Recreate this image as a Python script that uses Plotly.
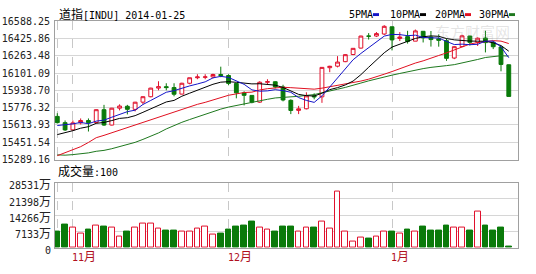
import plotly.graph_objects as go

# ---------------- data ----------------
# trading days 2013-10-30 .. 2014-01-24, one entry per session
open_ = [15680, 15618, 15546, 15616, 15639, 15619, 15747, 15594, 15762, 15781,
         15750, 15822, 15876, 15962, 15976, 15967, 15902, 16010, 16065, 16070,
         16073, 16097, 16087, 16008, 15914, 15889, 15822, 16020, 16025, 15973,
         15840, 15740, 15756, 15885, 15875, 16165, 16180, 16225, 16296, 16360,
         16480, 16480, 16500, 16572, 16456, 16474, 16429, 16527, 16471, 16453,
         16434, 16261, 16375, 16480, 16418, 16460, 16416, 16371, 16194]
high = [15712, 15640, 15640, 15660, 15660, 15750, 15795, 15765, 15800, 15795,
        15825, 15880, 15965, 16030, 16010, 16010, 16015, 16065, 16100, 16100,
        16105, 16175, 16100, 16010, 15930, 15890, 16030, 16050, 16030, 15995,
        15850, 15785, 15920, 15910, 16170, 16184, 16280, 16300, 16360, 16483,
        16509, 16520, 16588.25, 16573, 16519, 16532, 16545, 16528, 16530, 16497,
        16453, 16379, 16492, 16482, 16466, 16533, 16430, 16374, 16197]
low = [15610, 15535, 15540, 15600, 15530, 15610, 15585, 15590, 15740, 15700,
       15730, 15800, 15870, 15940, 15940, 15880, 15900, 16000, 16050, 16050,
       16060, 16070, 15990, 15860, 15790, 15810, 15815, 16000, 15960, 15830,
       15703, 15703, 15750, 15850, 15815, 16120, 16168, 16220, 16290, 16355,
       16445, 16470, 16490, 16337, 16430, 16405, 16429, 16416, 16375, 16374,
       16233, 16250, 16375, 16386, 16381, 16317, 16350, 16129, 15879]
close = [15618.22, 15545.75, 15615.55, 15639.12, 15618.76, 15746.88, 15593.98, 15761.78, 15783.10, 15750.67,
         15821.63, 15876.22, 15961.70, 15976.02, 15967.03, 15900.82, 16009.99, 16064.77, 16072.54, 16072.80,
         16097.33, 16086.41, 16008.77, 15914.62, 15889.77, 15821.51, 16020.20, 16025.53, 15973.13, 15843.53,
         15739.43, 15755.36, 15884.57, 15875.26, 16167.97, 16179.08, 16221.14, 16294.61, 16357.55, 16479.88,
         16478.41, 16504.29, 16576.66, 16441.35, 16469.99, 16425.10, 16530.94, 16462.74, 16444.76, 16437.05,
         16257.94, 16373.86, 16481.94, 16417.01, 16458.56, 16414.44, 16373.34, 16197.35, 15879.11]
# volume, in units of 10,000 shares
volume = [8221, 11606, 10010, 7254, 9188, 10977, 10639, 10010, 5803, 8221,
          10010, 12428, 12428, 9527, 8704, 8704, 8076, 8076, 9527, 10494,
          6625, 7254, 9188, 10639, 11122, 13057, 10010, 9188, 8221, 10639,
          10639, 8221, 10155, 10155, 13057, 9672, 28531, 8221, 3385, 5319,
          4836, 5803, 8221, 8221, 7254, 9188, 8221, 10639, 8704, 8704,
          11122, 10155, 10155, 8704, 18376, 11122, 8704, 10155, 484]
ma5 = [15589.4, 15596.7, 15605.8, 15619.8, 15607.5, 15633.2, 15642.9, 15672.1, 15700.9, 15727.3,
       15742.2, 15798.7, 15838.7, 15877.2, 15920.5, 15936.4, 15963.1, 15983.7, 16003.0, 16024.2,
       16063.5, 16078.8, 16067.6, 16036.0, 15999.4, 15944.2, 15931.0, 15934.3, 15946.0, 15936.8,
       15920.4, 15867.4, 15839.2, 15819.6, 15884.5, 15972.4, 16065.6, 16147.6, 16244.1, 16306.5,
       16366.3, 16422.9, 16479.4, 16496.1, 16494.1, 16483.5, 16488.8, 16466.0, 16466.7, 16460.1,
       16426.7, 16395.3, 16399.1, 16393.6, 16397.9, 16429.2, 16429.1, 16372.1, 16264.6]
ma10 = [15499.1, 15516.6, 15538.1, 15562.8, 15578.0, 15611.3, 15619.8, 15638.9, 15660.3, 15667.4,
        15687.7, 15720.8, 15755.4, 15789.1, 15823.9, 15839.3, 15880.9, 15911.2, 15940.1, 15972.4,
        15999.9, 16020.9, 16025.6, 16019.5, 16011.8, 16003.9, 16004.9, 16000.9, 15991.0, 15968.1,
        15932.3, 15899.2, 15886.8, 15882.8, 15910.6, 15946.4, 15966.5, 15993.4, 16031.9, 16095.5,
        16169.4, 16244.3, 16313.5, 16370.1, 16400.3, 16424.9, 16455.9, 16472.7, 16481.4, 16477.1,
        16455.1, 16442.0, 16432.6, 16430.1, 16429.0, 16427.9, 16412.2, 16385.6, 16329.1]
ma20 = [15289.1, 15316.6, 15343.7, 15378.9, 15421.0, 15468.2, 15491.6, 15517.8, 15541.9, 15571.0,
        15593.4, 15618.7, 15646.8, 15676.0, 15700.9, 15725.3, 15750.3, 15775.1, 15800.2, 15819.9,
        15843.8, 15870.9, 15890.5, 15904.3, 15917.8, 15921.6, 15942.9, 15956.1, 15965.6, 15970.2,
        15966.1, 15960.1, 15956.2, 15951.2, 15961.2, 15975.1, 15985.7, 15997.2, 16011.4, 16031.8,
        16050.8, 16071.7, 16100.1, 16126.5, 16155.5, 16185.7, 16211.2, 16233.0, 16256.6, 16286.3,
        16312.2, 16343.2, 16373.0, 16400.1, 16414.6, 16426.4, 16434.0, 16429.2, 16405.2]
ma30 = [15297.4, 15294.3, 15299.8, 15307.7, 15317.2, 15333.0, 15341.9, 15358.6, 15380.4, 15399.0,
        15422.0, 15451.3, 15481.0, 15515.6, 15555.3, 15591.9, 15621.4, 15649.0, 15674.7, 15704.8,
        15728.9, 15752.8, 15773.1, 15790.5, 15804.5, 15818.2, 15835.2, 15850.4, 15863.8, 15869.3,
        15873.3, 15880.3, 15889.3, 15897.1, 15915.4, 15929.9, 15950.8, 15968.5, 15987.7, 16012.0,
        16033.9, 16054.8, 16075.3, 16090.8, 16107.6, 16125.1, 16142.4, 16155.7, 16168.1, 16180.2,
        16185.6, 16195.2, 16210.9, 16227.7, 16246.7, 16266.4, 16278.2, 16283.9, 16280.8]

price_labels = ["15289.16", "15451.54", "15613.93", "15776.32", "15938.70",
                "16101.09", "16263.48", "16425.86", "16588.25"]
vol_labels = ["0", "7133万", "14266万", "21398万", "28531万"]
month_labels = ["11月", "12月", "1月"]
month_start = [2, 22, 43]      # first session of each month
marker_lines = [0, 2, 22, 43]  # dashed vertical guides

title_text = "道指[INDU] 2014-01-25"
vol_title = "成交量:100"
ma_names = ["5PMA", "10PMA", "20PMA", "30PMA"]

# ---------------- style ----------------
W, H = 536, 274
RED = "#e0102c"
GREEN = "#0a7a0a"
MA_COLORS = ["#1414c8", "#000000", "#e01020", "#1e781e"]
GRID = "#d6d6d6"
FRAME = "#a0a0a0"
MONO = "DejaVu Sans Mono, Noto Sans CJK SC"

L, R = 55, 518
MAIN_T, MAIN_B = 17, 161
VOL_T, VOL_B = 185, 253


def px_x(x):
    return x / W


def px_y(y):
    return (H - y) / H


def cjk(s, size=12):
    out = []
    for ch in s:
        if ord(ch) > 0x2E80:
            out.append(f'<span style="font-size:{size}px">{ch}</span>')
        else:
            out.append(ch)
    return "".join(out)


n = len(close)
idx = list(range(n))
spacing = (R - L) / 59.48
x_lo = -2.3 / spacing
x_hi = x_lo + (R - L) / spacing

# price scale: data extremes sit 4 px inside the frame
pmin = min(min(low), min(ma5), min(ma10), min(ma20), min(ma30))
pmax = max(max(high), max(ma5), max(ma10), max(ma20), max(ma30))
plot_h = MAIN_B - MAIN_T
span = (pmax - pmin) * plot_h / (plot_h - 8)
p_lo = pmin - (span - (pmax - pmin)) / 2
p_hi = p_lo + span
price_ticks = [p_lo + k * span / 8 for k in range(9)]

# volume scale: tallest bar sits 9 px under the frame
vol_h = VOL_B - VOL_T
v_hi = max(volume) * vol_h / (vol_h - 9)
vol_ticks = [v_hi * k / 4 for k in range(5)]

fig = go.Figure()

fig.add_trace(go.Candlestick(
    x=idx, open=open_, high=high, low=low, close=close,
    increasing=dict(line=dict(color=RED, width=1), fillcolor="white"),
    decreasing=dict(line=dict(color=GREEN, width=1), fillcolor=GREEN),
    whiskerwidth=0, xaxis="x", yaxis="y", showlegend=False, hoverinfo="skip",
))

for vals, col in zip([ma30, ma20, ma10, ma5], MA_COLORS[::-1]):
    fig.add_trace(go.Scatter(x=idx, y=vals, mode="lines",
                             line=dict(color=col, width=1),
                             xaxis="x", yaxis="y", showlegend=False,
                             hoverinfo="skip"))

up = [c >= o for o, c in zip(open_, close)]
fig.add_trace(go.Bar(
    x=idx, y=volume, width=0.74,
    marker=dict(color=["white" if u else GREEN for u in up],
                line=dict(color=[RED if u else GREEN for u in up], width=1)),
    xaxis="x2", yaxis="y2", showlegend=False, hoverinfo="skip",
))

axis_common = dict(showline=True, mirror=True, linecolor=FRAME, linewidth=1,
                   zeroline=False, ticks="", fixedrange=True)

fig.update_layout(
    width=W, height=H, margin=dict(l=0, r=0, t=0, b=0),
    paper_bgcolor="white", plot_bgcolor="white",
    font=dict(family=MONO, size=10, color="#222"),
    xaxis=dict(domain=[px_x(L), px_x(R)], range=[x_lo, x_hi],
               tickvals=marker_lines, showticklabels=False,
               showgrid=True, gridcolor="#c8c8c8", griddash="dash",
               rangeslider=dict(visible=False), anchor="y", **axis_common),
    yaxis=dict(domain=[px_y(MAIN_B), px_y(MAIN_T)], range=[p_lo, p_hi],
               tickvals=price_ticks, ticktext=price_labels,
               showgrid=True, gridcolor=GRID, anchor="x",
               ticklabelstandoff=2, **axis_common),
    xaxis2=dict(domain=[px_x(L), px_x(R)], range=[x_lo, x_hi],
                tickvals=marker_lines, showticklabels=False,
                showgrid=True, gridcolor="#c8c8c8", griddash="dash",
                anchor="y2", **axis_common),
    yaxis2=dict(domain=[px_y(VOL_B), px_y(VOL_T)], range=[0, v_hi],
                tickvals=vol_ticks, showticklabels=False,
                showgrid=True, gridcolor=GRID, anchor="x2", **axis_common),
    bargap=0,
)

ann = []
# faint site watermark, drawn first so it stays underneath
ann.append(dict(text="东方财富网", x=px_x(472), y=px_y(28), xref="paper", yref="paper",
                xanchor="center", yanchor="middle", showarrow=False,
                font=dict(family="Noto Sans CJK SC", size=15, color="rgba(150,150,150,0.25)")))
# title
ann.append(dict(text=cjk(title_text), x=px_x(57), y=px_y(10), xref="paper", yref="paper",
                xanchor="left", yanchor="middle", showarrow=False,
                font=dict(family=MONO, size=10, color="#000")))
# volume caption
ann.append(dict(text=cjk(vol_title), x=px_x(56), y=px_y(173), xref="paper", yref="paper",
                xanchor="left", yanchor="middle", showarrow=False,
                font=dict(family=MONO, size=10, color="#000")))
# volume axis labels
for k, lab in enumerate(vol_labels):
    ann.append(dict(text=cjk(lab), x=px_x(52.5), y=px_y(VOL_B + 3 - k * vol_h / 4),
                    xref="paper", yref="paper", xanchor="right", yanchor="middle",
                    showarrow=False, font=dict(family=MONO, size=10, color="#222")))
# month labels
for lab, pos in zip(month_labels, month_start):
    ann.append(dict(text=cjk(lab), x=pos - 0.35, y=px_y(263), xref="x2", yref="paper",
                    xanchor="left", yanchor="middle", showarrow=False,
                    font=dict(family=MONO, size=10, color="#b01020")))
# moving-average legend
legend_x = [347, 388, 433, 477]
shapes = []
for name, col, lx in zip(ma_names, MA_COLORS, legend_x):
    ann.append(dict(text=name, x=px_x(lx), y=px_y(10), xref="paper", yref="paper",
                    xanchor="left", yanchor="middle", showarrow=False,
                    font=dict(family=MONO, size=10, color="#000")))
    x0 = lx + 6 * len(name) + 2
    shapes.append(dict(type="rect", xref="paper", yref="paper",
                       x0=px_x(x0), x1=px_x(x0 + 6), y0=px_y(11.5), y1=px_y(8.5),
                       fillcolor=col, line=dict(width=0)))

fig.update_layout(annotations=ann, shapes=shapes)
fig.write_html("out.html")
